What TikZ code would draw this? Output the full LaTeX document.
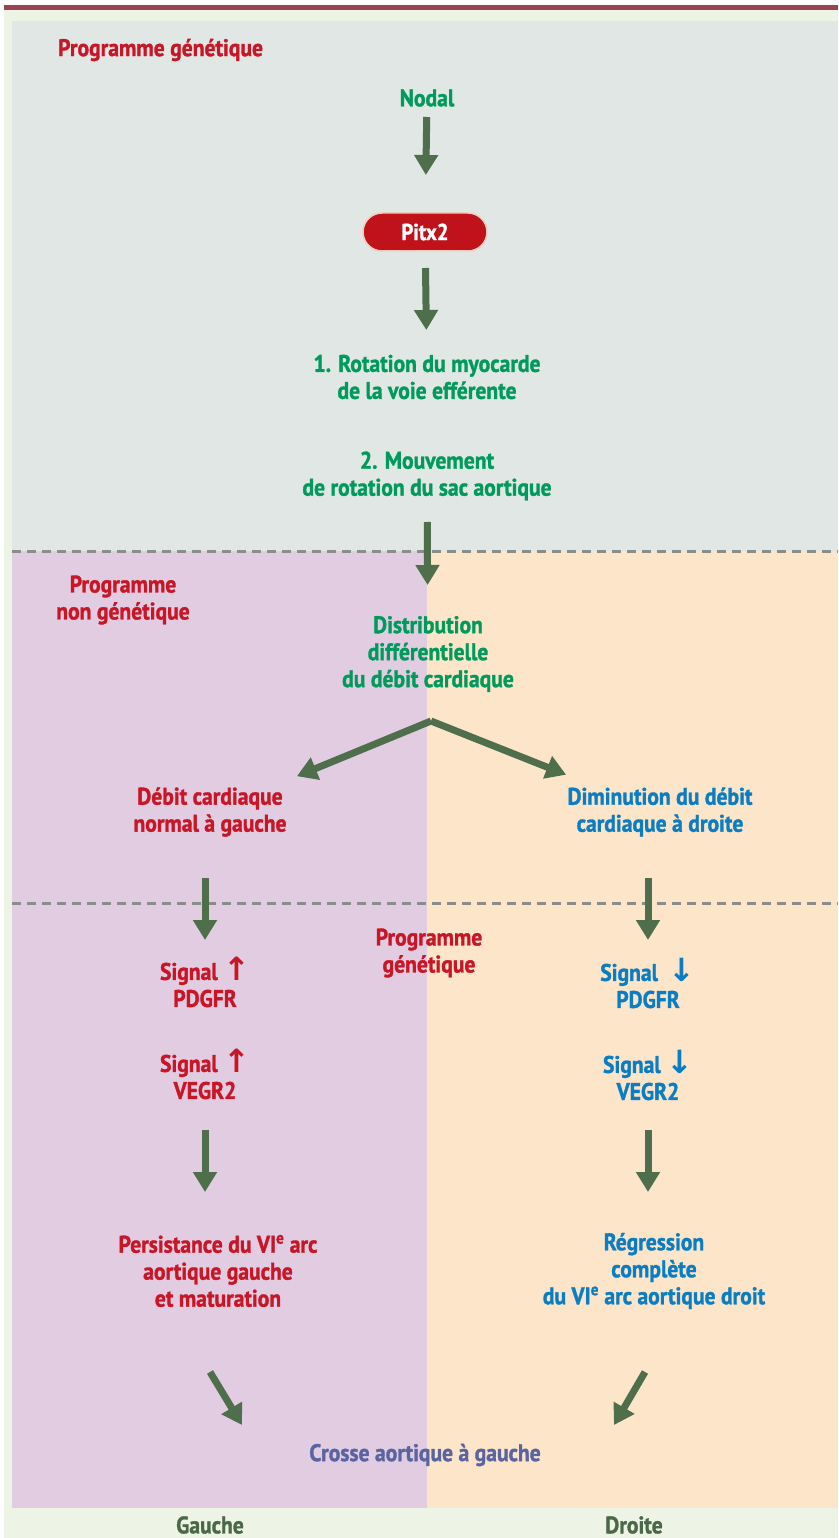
\documentclass[tikz,border=0pt]{standalone}
\usepackage{fontspec}
\setmainfont{PT Sans}[FakeStretch=0.9, BoldFeatures={FakeBold=1.3}]
\newfontfamily\arrowfont{DejaVu Sans}
\usetikzlibrary{positioning}
\usetikzlibrary{arrows.meta}
\usetikzlibrary{shapes.misc}

\definecolor{progred}{RGB}{200,22,38}
\definecolor{nodalgreen}{RGB}{0,155,92}
\definecolor{rightblue}{RGB}{10,125,195}
\definecolor{crossblue}{RGB}{90,100,160}
\definecolor{sidegreen}{RGB}{75,105,72}
\definecolor{arrowgreen}{RGB}{78,110,76}
\definecolor{pitxred}{RGB}{192,18,27}
\definecolor{pillrim}{RGB}{240,205,190}
\definecolor{topred}{RGB}{154,68,80}
\definecolor{outerbg}{RGB}{238,244,229}
\definecolor{greybg}{RGB}{224,231,228}
\definecolor{leftbg}{RGB}{225,204,225}
\definecolor{rightbg}{RGB}{253,229,202}
\definecolor{dashgrey}{RGB}{138,142,138}

\newcommand{\sigup}{\smash{\arrowfont\fontsize{32}{27}\selectfont\raisebox{-1pt}{↑}}}
\newcommand{\sigdown}{\smash{\arrowfont\fontsize{32}{27}\selectfont\raisebox{-1pt}{↓}}}

\tikzset{
  txt/.style={inner sep=0pt, align=center, font=\fontsize{24}{27}\selectfont\bfseries},
  pill/.style={rounded rectangle, fill=pitxred, draw=pillrim, line width=1.5pt,
    text=white, minimum width=124pt, minimum height=38pt, inner sep=0pt,
    font=\fontsize{23}{24}\selectfont\bfseries},
  flow/.style={draw=arrowgreen, line width=7pt, line join=round,
    -{Triangle[length=20pt,width=23pt]}},
  divider/.style={draw=dashgrey, line width=3pt, dash pattern=on 9pt off 6pt},
}

\begin{document}
\begin{tikzpicture}[x=1pt,y=-1pt]
  \useasboundingbox (0,0) rectangle (838,1538);

  % Background panels
  \fill[white] (0,0) rectangle (838,1538);
  \fill[outerbg] (4,10) rectangle (838,1538);
  \fill[topred] (4,5) rectangle (838,10);
  \fill[greybg] (12,21) rectangle (838,551);
  \fill[leftbg] (12,551) rectangle (427,1508);
  \fill[rightbg] (427,551) rectangle (838,1508);
  \draw[divider] (12,551) -- (838,551);
  \draw[divider] (12,903) -- (838,903);

  % Define nodes
  \node[txt, text=progred, anchor=west] (prog_gen) at (58,50) {Programme génétique};
  \node[txt, text=nodalgreen] (nodal) at (427,98) {Nodal};
  \node[pill] (pitx) at (425,232) {Pitx2};
  \node[txt, text=nodalgreen] (rotation) at (427,377) {1. Rotation du myocarde\\de la voie efférente};
  \node[txt, text=nodalgreen] (mouvement) at (427,476) {2. Mouvement\\de rotation du sac aortique};
  \node[txt, text=progred] (prog_nongen) at (123,600) {Programme\\non génétique};
  \node[txt, text=nodalgreen] (distrib) at (428,654) {Distribution\\différentielle\\du débit cardiaque};
  \coordinate (fork) at (431,721);
  \node[txt, text=progred] (debit_g) at (210,812) {Débit cardiaque\\normal à gauche};
  \node[txt, text=rightblue] (debit_d) at (660,812) {Diminution du débit\\cardiaque à droite};
  \node[txt, text=progred] (prog_gen2) at (429,953) {Programme\\génétique};
  \node[txt, text=progred] (pdgfr_g) at (205,985) {Signal \sigup\\PDGFR};
  \node[txt, text=rightblue] (pdgfr_d) at (648,986) {Signal \ \sigdown\\PDGFR};
  \node[txt, text=progred] (vegr_g) at (205,1077) {Signal \sigup\\VEGR2};
  \node[txt, text=rightblue] (vegr_d) at (648,1078) {Signal \sigdown\\VEGR2};
  \node[txt, text=progred] (persist) at (218,1271) {Persistance du VI\textsuperscript{e} arc\\aortique gauche\\et maturation};
  \node[txt, text=rightblue] (regress) at (654,1271) {Régression\\complète\\du VI\textsuperscript{e} arc aortique droit};
  \coordinate (out_g) at (210,1372);
  \coordinate (in_g) at (242,1425);
  \coordinate (out_d) at (645,1372);
  \coordinate (in_d) at (614,1425);
  \node[txt, text=crossblue] (crosse) at (425,1455) {Crosse aortique à gauche};
  \node[txt, text=sidegreen] (gauche) at (210,1525) {Gauche};
  \node[txt, text=sidegreen] (droite) at (634,1525) {Droite};

  % Connect nodes
  \draw[flow, shorten <=19pt, shorten >=57pt] (nodal.center) -- (pitx.center);
  \draw[flow, shorten <=36pt, shorten >=47pt] (pitx.center) -- (rotation.center);
  \draw[flow, shorten <=46pt, shorten >=69pt] (mouvement.center) -- (distrib.center);
  \draw[flow, shorten >=94pt] (fork) -- (debit_g.center);
  \draw[flow, shorten >=101pt] (fork) -- (debit_d.center);
  \draw[flow, shorten <=66pt, shorten >=45pt] (pdgfr_g |- debit_g) -- (pdgfr_g.center);
  \draw[flow, shorten <=66pt, shorten >=46pt] (pdgfr_d |- debit_d) -- (pdgfr_d.center);
  \draw[flow, shorten <=53pt, shorten >=79pt] (vegr_g.center) -- (vegr_g |- persist);
  \draw[flow, shorten <=52pt, shorten >=79pt] (vegr_d.center) -- (vegr_d |- regress);
  \draw[flow] (out_g) -- (in_g);
  \draw[flow] (out_d) -- (in_d);

\end{tikzpicture}
\end{document}
